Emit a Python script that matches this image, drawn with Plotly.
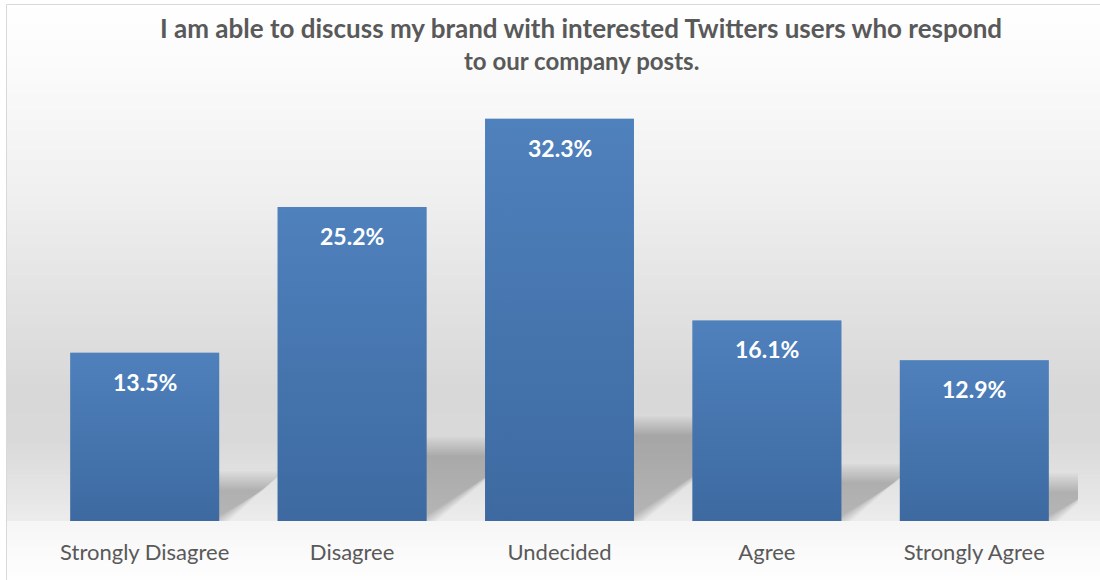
import plotly.graph_objects as go

# Survey responses
categories = ["Strongly Disagree", "Disagree", "Undecided", "Agree", "Strongly Agree"]
percentages = [13.5, 25.2, 32.3, 16.1, 12.9]
value_labels = ["13.5%", "25.2%", "32.3%", "16.1%", "12.9%"]
title_lines = ["I am able to discuss my brand with interested Twitters users who respond",
               "to our company posts."]

# Canvas and plot-area geometry (pixels)
W, H = 1100, 580
ML, MR, MT, MB = 41, 22, 85, 59
PW, PH = W - ML - MR, H - MT - MB
Y_MAX = 35
BAR_W = 0.718
FONT = "Lato, 'Open Sans', sans-serif"
TEXT_GREY = "#595959"
BAR_COLOR = "#4675af"


def px_x(px):
    return (px - ML) / PW


def px_y(py):
    return (H - MB - py) / PH


def lerp_grey(py, stops):
    for (y0, g0), (y1, g1) in zip(stops, stops[1:]):
        if y0 <= py <= y1:
            t = 0 if y1 == y0 else (py - y0) / (y1 - y0)
            g = round(g0 + (g1 - g0) * t)
            return f"rgb({g},{g},{g})"
    g = stops[-1][1]
    return f"rgb({g},{g},{g})"


shapes = []

# Soft vertical background gradient behind the plot, lighter "floor" below it
wall_stops = [(0, 255), (80, 250), (200, 239), (300, 226), (390, 216), (440, 217), (522, 236)]
floor_stops = [(521, 246), (580, 254)]
floor_top = H - MB
step = 5
py = 4.5
while py < floor_top:
    y_next = min(py + step, floor_top)
    shapes.append(dict(type="rect", xref="paper", yref="paper", layer="below",
                       x0=px_x(6.5), x1=px_x(W + 5), y0=px_y(y_next + 0.6), y1=px_y(py),
                       fillcolor=lerp_grey((py + y_next) / 2, wall_stops), line=dict(width=0)))
    py = y_next
py = floor_top
while py < H:
    y_next = min(py + step, H + 5)
    shapes.append(dict(type="rect", xref="paper", yref="paper", layer="below",
                       x0=px_x(6.5), x1=px_x(W + 5), y0=px_y(y_next + 0.6), y1=px_y(py),
                       fillcolor=lerp_grey((py + y_next) / 2, floor_stops), line=dict(width=0)))
    py = y_next

# Chart-area border
shapes.append(dict(type="rect", xref="paper", yref="paper", layer="below",
                   x0=px_x(6.5), x1=px_x(W + 5), y0=px_y(H + 5), y1=px_y(4.5),
                   fillcolor="rgba(0,0,0,0)", line=dict(color="#d9d9d9", width=1)))

# Perspective shadows cast behind each bar (feathered with stacked layers)
px_per_x = PW / 5.0
px_per_y = PH / Y_MAX
feather = [(e, 0.024) for e in range(-8, 11, 2)]
for i, h in enumerate(percentages):
    left, right = i - BAR_W / 2, i + BAR_W / 2
    rise = 0.235 * h
    reach = 0.0193 * h
    for e, a in feather:
        ex = e / px_per_x
        ey = e / px_per_y
        path = (f"M {left},0 L {right + ex},0 L {right + reach + ex},{rise + ey} "
                f"L {left + reach},{rise + ey} Z")
        shapes.append(dict(type="path", xref="x", yref="y", layer="below", path=path,
                           fillcolor=f"rgba(0,0,0,{a})", line=dict(width=0)))

fig = go.Figure()
fig.add_trace(go.Bar(
    x=list(range(len(categories))),
    y=percentages,
    width=BAR_W,
    marker=dict(color=BAR_COLOR, line=dict(width=0)),
    hoverinfo="skip",
))

# Vertical sheen over each bar: lighter at the top, deeper at the base
for i, h in enumerate(percentages):
    left, right = i - BAR_W / 2, i + BAR_W / 2
    fig.add_trace(go.Scatter(
        x=[left, right, right, left, left], y=[0, 0, h, h, 0],
        mode="lines", line=dict(width=0), fill="toself",
        fillgradient=dict(type="vertical",
                          colorscale=[[0, "rgba(50,91,142,0.45)"], [1, "rgba(90,143,205,0.45)"]]),
        hoverinfo="skip", showlegend=False,
    ))

# Two-line bold title, each line placed on its own baseline band
annotations = []
for line, top, size in zip(title_lines, [10, 44], [26, 24]):
    annotations.append(dict(xref="paper", yref="paper", x=px_x(581), y=px_y(top),
                            xanchor="center", yanchor="top", showarrow=False,
                            text=f"<b>{line}</b>",
                            font=dict(family=FONT, size=size, color=TEXT_GREY)))
for i, (h, lab) in enumerate(zip(percentages, value_labels)):
    annotations.append(dict(x=i, y=h, xref="x", yref="y", text=f"<b>{lab}</b>",
                            showarrow=False, yanchor="top", yshift=-13,
                            font=dict(family=FONT, size=23, color="white")))

fig.update_layout(
    width=W, height=H,
    margin=dict(l=ML, r=MR, t=MT, b=MB, pad=0),
    paper_bgcolor="white",
    plot_bgcolor="rgba(0,0,0,0)",
    showlegend=False,
    shapes=shapes,
    annotations=annotations,
    xaxis=dict(range=[-0.5, 4.5], tickmode="array", tickvals=list(range(len(categories))),
               ticktext=categories, showgrid=False, zeroline=False, showline=False,
               ticks="outside", ticklen=12, tickcolor="rgba(0,0,0,0)",
               tickfont=dict(family=FONT, size=22, color=TEXT_GREY), fixedrange=True),
    yaxis=dict(range=[0, Y_MAX], visible=False, fixedrange=True),
)

fig.write_html("out.html")
